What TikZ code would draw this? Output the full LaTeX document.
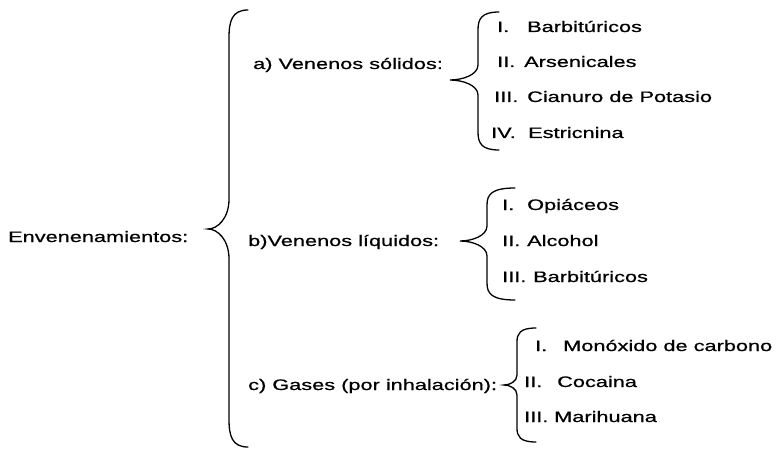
\documentclass[tikz,border=0pt]{standalone}
\usepackage{fontspec}
\usepackage{graphicx}
\setmainfont{Liberation Sans}[FakeBold=0.6]
\newcommand{\sx}[1]{\scalebox{1.43}[1]{#1}}
% brace: #1 xt, #2 yt, #3 yb, #4 xv, #5 xc, #6 yc, #7 hook, #8 cusp half-height
\newcommand{\mybrace}[8]{%
  \draw[braceline] (#1,#2) .. controls ({#4+0.15*(#1-#4)},#2) and (#4,{#2+0.4*#7}) .. (#4,{#2+#7})
   -- (#4,{#6-#8}) .. controls (#4,{#6-0.35*#8}) and ({#5+0.45*(#4-#5)},#6) .. (#5,#6)
   .. controls ({#5+0.45*(#4-#5)},#6) and (#4,{#6+0.35*#8}) .. (#4,{#6+#8})
   -- (#4,{#3-#7}) .. controls (#4,{#3-0.4*#7}) and ({#4+0.15*(#1-#4)},#3) .. (#1,#3);}
\begin{document}
\begin{tikzpicture}[x=1pt,y=-1pt,
  txt/.style={anchor=base west,inner sep=0pt,font=\fontsize{15.2}{18}\selectfont},
  braceline/.style={line width=1.3pt,line join=miter,line cap=round}]
\useasboundingbox (0,0) rectangle (778,449);
% main
\node[txt] (root) at (8,242) {\sx{Envenenamientos:}};
\mybrace{248}{10}{447}{229}{208}{229}{28}{30}
% level 1
\node[txt] (a) at (253,69) {\sx{a) Venenos sólidos:}};
\node[txt] (b) at (248,246) {\sx{b)Venenos líquidos:}};
\node[txt] (c) at (248,390) {\sx{c) Gases (por inhalación):}};
% a block
\mybrace{499}{12}{150}{478}{450}{80}{18}{15}
\node[txt] (a1) at (497,32) {\makebox[30pt][l]{\sx{I.}}\sx{Barbitúricos}};
\node[txt] (a2) at (497,67) {\makebox[27pt][l]{\sx{II.}}\sx{Arsenicales}};
\node[txt] (a3) at (494,102) {\makebox[33pt][l]{\sx{III.}}\sx{Cianuro de Potasio}};
\node[txt] (a4) at (491,138) {\makebox[37pt][l]{\sx{IV.}}\sx{Estricnina}};
% b block
\mybrace{515}{188}{300}{487}{460}{241}{17}{15}
\node[txt] (b1) at (502,210) {\makebox[25pt][l]{\sx{I.}}\sx{Opiáceos}};
\node[txt] (b2) at (502,246) {\makebox[25pt][l]{\sx{II.}}\sx{Alcohol}};
\node[txt] (b3) at (502,282) {\makebox[31pt][l]{\sx{III.}}\sx{Barbitúricos}};
% c block
\mybrace{536}{328}{442}{517}{504}{385}{14}{10}
\node[txt] (c1) at (535,351) {\makebox[28pt][l]{\sx{I.}}\sx{Monóxido de carbono}};
\node[txt] (c2) at (524,387) {\makebox[33pt][l]{\sx{II.}}\sx{Cocaina}};
\node[txt] (c3) at (524,422) {\makebox[30pt][l]{\sx{III.}}\sx{Marihuana}};
\end{tikzpicture}
\end{document}
